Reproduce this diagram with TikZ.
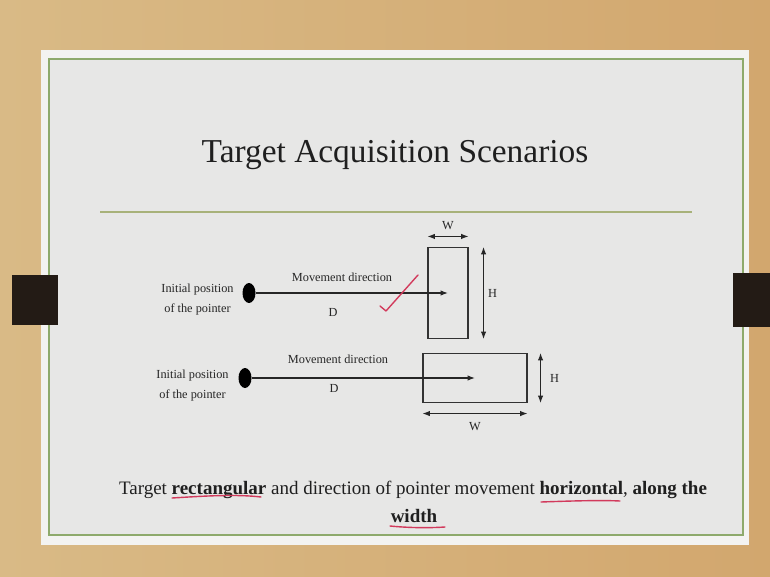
\documentclass[tikz,border=0pt]{standalone}
\usepackage{fontspec}
\setmainfont{Liberation Serif}
\usetikzlibrary{arrows.meta,positioning,shapes.geometric}
\definecolor{wood}{HTML}{D9BA86}
\definecolor{woodr}{HTML}{D2A76E}
\definecolor{slide}{HTML}{E7E7E6}
\definecolor{slideedge}{HTML}{F3F3F1}
\definecolor{frame}{HTML}{8EAA6C}
\definecolor{titlerule}{HTML}{A8B27A}
\definecolor{clipblack}{HTML}{231B15}
\definecolor{pen}{HTML}{D23A5C}
\tikzset{
  tpx/.style={x=1pt, y=-1pt, >={Latex[length=7.5pt, width=5.5pt]}},
  t lab/.style={font=\fontsize{12.3}{20}\selectfont, text=black!85, inner sep=0pt, align=center},
  t note/.style={font=\fontsize{19}{26}\selectfont, text=black!88, inner sep=0pt},
  t dot/.style={ellipse, fill=black, inner sep=0pt, minimum width=13pt, minimum height=20pt},
  t tgt/.style={draw=black!80, line width=1.1pt, fill=slide, inner sep=0pt},
  t arr/.style={->, line width=1.1pt, black!85},
  t dim/.style={<->, line width=1.1pt, black!85},
  t pen/.style={pen, line width=1.4pt, line cap=round, line join=round},
}

\begin{document}
\begin{tikzpicture}[tpx]
\useasboundingbox (0,0) rectangle (770,577);
% ---- board, slide and clips ----
\shade[left color=wood, right color=woodr] (0,0) rectangle (770,577);
\fill[slideedge] (41,50) rectangle (749,545);
\draw[frame, line width=1.6pt, fill=slide] (49,59) rectangle (743,535);
\fill[clipblack] (12,275) rectangle (58,325);
\fill[clipblack] (733,273) rectangle (770,327);
\node[font=\fontsize{33.4}{40}\selectfont, text=black!88, anchor=base] (title) at (395,163) {Target Acquisition Scenarios};
\draw[titlerule, line width=2.2pt] (100,212) -- (692,212);
% ---- tall target, width across the motion ----
\node[t lab] (initA) at (197.5,299.5) {Initial position\\of the pointer};
\node[t dot] (dotA) at (249,293) {};
\node[t tgt, minimum width=40pt, minimum height=91pt] (tgtA) at (448,293) {};
\draw[t arr] (dotA) -- (tgtA.center);
\node[t lab] (moveA) at (342,277) {Movement direction};
\node[t lab] (distA) at (333,312) {D};
\draw[t dim] ([yshift=10.5pt]tgtA.north west) -- ([yshift=10.5pt]tgtA.north east) node[t lab, midway, above=6pt] (wA) {W};
\draw[t dim] ([xshift=15pt]tgtA.north east) -- ([xshift=15pt]tgtA.south east) node[t lab, midway, right=4pt] (hA) {H};
\draw[t pen] (380,306) -- (386,311) -- (418,275);
% ---- wide target ----
\node[t lab] (initB) at (192.5,385.5) {Initial position\\of the pointer};
\node[t dot] (dotB) at (245,378) {};
\node[t tgt, minimum width=104pt, minimum height=49pt] (tgtB) at (475,378) {};
\draw[t arr] (dotB) -- (tgtB.center);
\node[t lab] (moveB) at (338,359) {Movement direction};
\node[t lab] (distB) at (334,388) {D};
\draw[t dim] ([yshift=-10.5pt]tgtB.south west) -- ([yshift=-10.5pt]tgtB.south east) node[t lab, midway, below=8pt] (wB) {W};
\draw[t dim] ([xshift=13pt]tgtB.north east) -- ([xshift=13pt]tgtB.south east) node[t lab, midway, right=9pt] (hB) {H};
% ---- caption with pen marks ----
\node[t note, anchor=base] (note1) at (413,494) {Target \textbf{rectangular} and direction of pointer movement \textbf{horizontal}, \textbf{along the}};
\node[t note, anchor=base] (note2) at (414,522) {\textbf{width}};
\draw[t pen] (172,498) .. controls (205,496) and (235,494) .. (261,497);
\draw[t pen] (541,502) .. controls (570,501) and (600,500) .. (620,501);
\draw[t pen] (390,526) .. controls (410,528) and (430,528) .. (445,527);
\end{tikzpicture}
\end{document}
